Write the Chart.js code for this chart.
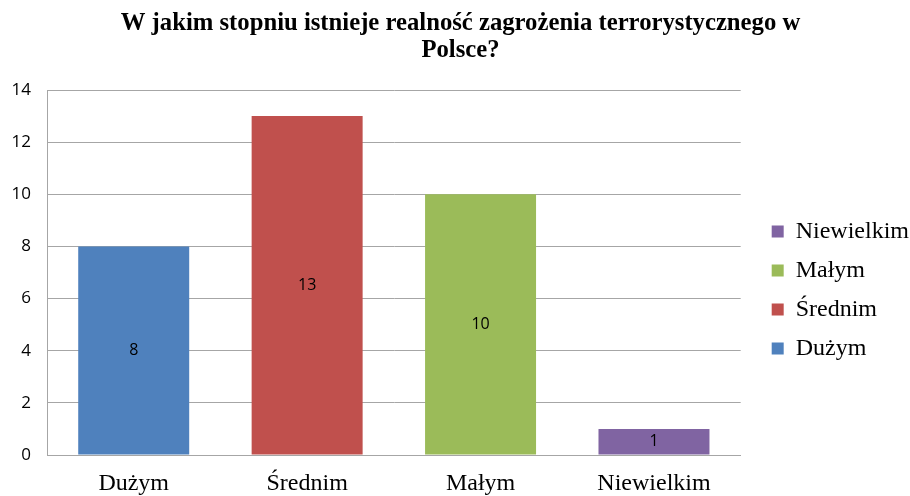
<!DOCTYPE html>
<html>
<head>
<meta charset="utf-8">
<script src="https://cdn.jsdelivr.net/npm/chart.js@4"></script>
<style>
  html, body { margin: 0; padding: 0; background: #fff; }
  #wrap { width: 910px; height: 496px; }
</style>
</head>
<body>
<div id="wrap"><canvas id="chart"></canvas></div>
<script>
const categories = ["Dużym", "Średnim", "Małym", "Niewielkim"];
const answers = [8, 13, 10, 1];
const barColors = ["#4F81BD", "#C0504D", "#9BBB59", "#8064A2"];
const yTicks = [0, 2, 4, 6, 8, 10, 12, 14];
const titleLines = ["W jakim stopniu istnieje realność zagrożenia terrorystycznego w", "Polsce?"];

const SERIF = "'Liberation Serif', 'Times New Roman', serif";
const SANS = "'Open Sans', 'Liberation Sans', sans-serif";

// value labels in the middle of each bar
const barLabels = {
  id: "barLabels",
  afterDatasetsDraw(chart) {
    const ctx = chart.ctx;
    const meta = chart.getDatasetMeta(0);
    ctx.save();
    ctx.font = "16px " + SANS;
    ctx.fillStyle = "#000";
    ctx.textAlign = "center";
    ctx.textBaseline = "middle";
    meta.data.forEach((bar, i) => {
      ctx.fillText(String(answers[i]), bar.x, (bar.y + bar.base) / 2);
    });
    ctx.restore();
  }
};

// nudge the legend block down/right, title a little right
const boxShift = {
  id: "boxShift",
  afterLayout(chart) {
    const lg = chart.legend;
    lg.top += 40;
    lg.bottom += 40;
    lg.left += 16;
    lg.right += 16;
    const tb = chart.titleBlock;
    if (tb) {
      tb.left += 9;
      tb.right += 9;
    }
  }
};

new Chart(document.getElementById("chart"), {
  type: "bar",
  data: {
    labels: categories,
    datasets: [{
      data: answers,
      backgroundColor: barColors,
      borderWidth: 0,
      barPercentage: 0.64,
      categoryPercentage: 1
    }]
  },
  options: {
    responsive: true,
    maintainAspectRatio: false,
    animation: false,
    layout: { padding: { left: 0, right: 7, top: 4, bottom: 0 } },
    plugins: {
      title: {
        display: true,
        text: titleLines,
        color: "#000",
        font: { family: SERIF, size: 24.7, weight: "bold", lineHeight: 1.1 },
        padding: { top: 6, bottom: 25.7 }
      },
      legend: {
        position: "right",
        reverse: true,
        labels: {
          color: "#000",
          font: { family: SERIF, size: 24 },
          boxWidth: 12,
          boxHeight: 12,
          padding: 15,
          generateLabels: () => categories.map((c, i) => ({
            text: c,
            fillStyle: barColors[i],
            strokeStyle: barColors[i],
            lineWidth: 0,
            index: i,
            datasetIndex: 0
          }))
        }
      },
      tooltip: { enabled: false }
    },
    scales: {
      x: {
        grid: { display: false },
        border: { color: "#a6a6a6", width: 1 },
        ticks: { color: "#000", font: { family: SERIF, size: 24 }, padding: 6 },
        afterFit: s => { s.height = 41; }
      },
      y: {
        min: 0,
        max: 14,
        afterBuildTicks: s => { s.ticks = yTicks.map(v => ({ value: v })); },
        grid: { color: "#a6a6a6", drawTicks: false },
        border: { color: "#a6a6a6", width: 1 },
        ticks: { color: "#000", font: { family: SANS, size: 17 }, padding: 16 },
        afterFit: s => { s.width = 47; }
      }
    }
  },
  plugins: [barLabels, boxShift]
});
</script>
</body>
</html>
